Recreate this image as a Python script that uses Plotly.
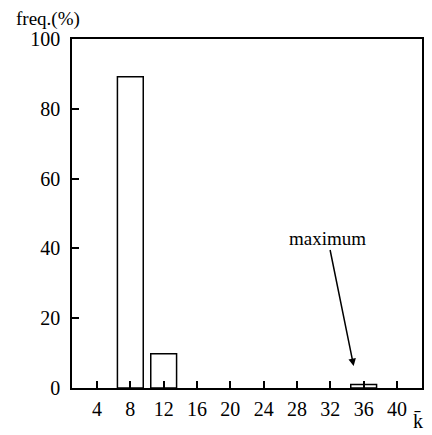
import plotly.graph_objects as go

k_values = [8, 12, 36]
freq = [89.2, 9.8, 1.0]
x_ticks = [4, 8, 12, 16, 20, 24, 28, 32, 36, 40]
y_ticks = [0, 20, 40, 60, 80, 100]

FONT = "Liberation Serif"

fig = go.Figure()
fig.add_trace(go.Bar(
    x=k_values, y=freq, width=3.1,
    marker=dict(color="white", line=dict(color="black", width=1.5)),
))

fig.update_layout(
    width=432, height=435,
    margin=dict(l=72, r=8, t=39, b=47),
    paper_bgcolor="white", plot_bgcolor="white",
    font=dict(family=FONT, size=20, color="black"),
    showlegend=False,
    xaxis=dict(range=[1, 43], tickvals=x_ticks, ticks="inside", ticklen=7,
               tickwidth=1.5, tickcolor="black", showline=True, linecolor="black",
               linewidth=1.5, mirror=True, showgrid=False, zeroline=False,
               ticklabelstandoff=2),
    yaxis=dict(range=[0, 100], tickvals=y_ticks, ticks="inside", ticklen=7,
               tickwidth=1.5, tickcolor="black", showline=True, linecolor="black",
               linewidth=1.5, mirror=True, showgrid=False, zeroline=False,
               ticklabelstandoff=6),
)
fig.add_annotation(x=34.8, y=6.3, xref="x", yref="y", text="maximum", showarrow=True,
                   arrowhead=2, arrowsize=1, arrowwidth=1.5, arrowcolor="black",
                   ax=-26, ay=-128, font=dict(family=FONT, size=19))
fig.add_annotation(x=(14 - 72) / 352, y=(388 - 19) / 349, xref="paper", yref="paper",
                   text="freq.(%)", showarrow=False, xanchor="left", yanchor="middle",
                   font=dict(family=FONT, size=19))
fig.add_annotation(x=1.0, y=0, xref="paper", yref="paper", text="k\u0304",
                   showarrow=False, xanchor="right", yanchor="top", yshift=-20, xshift=3,
                   font=dict(family=FONT, size=20))
fig.write_html("out.html")
